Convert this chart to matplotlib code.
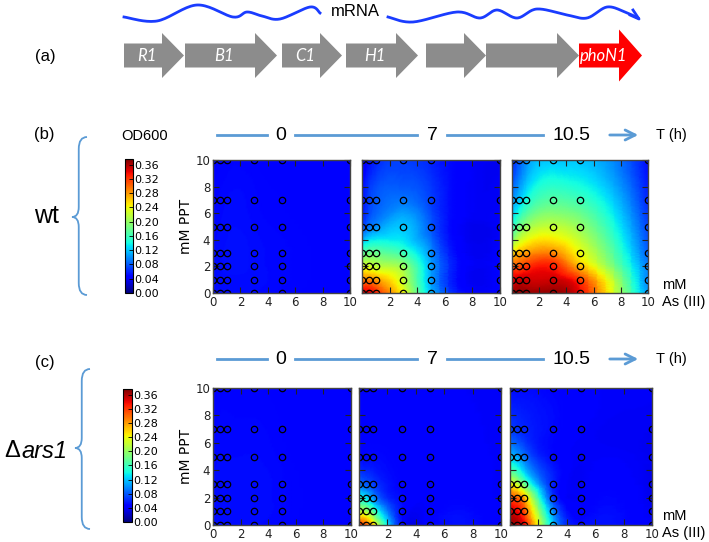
import numpy as np
import matplotlib
matplotlib.use("Agg")
import matplotlib.pyplot as plt
import matplotlib.tri as mtri
from matplotlib.path import Path
from matplotlib.patches import PathPatch, FancyArrow

# DATA
# measured grid (As(III) mM on x, PPT mM on y)
ars_mM = [0, 0.5, 1, 3, 5, 10]
ppt_mM = [0, 1, 2, 3, 5, 7, 10]
times = ["0", "7", "10.5"]

# OD600 values, one row per PPT level (0,1,2,3,5,7,10), columns follow ars_mM
od_wt_0h = [
    [0.050, 0.050, 0.050, 0.050, 0.048, 0.044],
    [0.050, 0.051, 0.051, 0.051, 0.049, 0.044],
    [0.050, 0.051, 0.052, 0.051, 0.049, 0.044],
    [0.050, 0.051, 0.052, 0.051, 0.049, 0.044],
    [0.049, 0.050, 0.051, 0.050, 0.048, 0.043],
    [0.048, 0.049, 0.050, 0.049, 0.047, 0.043],
    [0.046, 0.047, 0.048, 0.047, 0.046, 0.042],
]
od_wt_7h = [
    [0.35, 0.35, 0.33, 0.24, 0.12, 0.045],
    [0.29, 0.29, 0.28, 0.22, 0.11, 0.045],
    [0.23, 0.23, 0.22, 0.20, 0.11, 0.045],
    [0.17, 0.18, 0.18, 0.16, 0.10, 0.044],
    [0.07, 0.09, 0.10, 0.12, 0.08, 0.042],
    [0.05, 0.07, 0.08, 0.09, 0.07, 0.040],
    [0.04, 0.05, 0.06, 0.07, 0.06, 0.038],
]
od_wt_105h = [
    [0.37, 0.37, 0.37, 0.37, 0.34, 0.10],
    [0.34, 0.35, 0.35, 0.35, 0.32, 0.09],
    [0.31, 0.31, 0.32, 0.33, 0.27, 0.09],
    [0.25, 0.27, 0.28, 0.29, 0.24, 0.08],
    [0.15, 0.18, 0.20, 0.22, 0.20, 0.07],
    [0.10, 0.12, 0.14, 0.17, 0.16, 0.06],
    [0.06, 0.08, 0.10, 0.12, 0.12, 0.05],
]
od_ars1_0h = [
    [0.050, 0.050, 0.050, 0.050, 0.048, 0.044],
    [0.050, 0.051, 0.051, 0.051, 0.049, 0.044],
    [0.050, 0.051, 0.051, 0.051, 0.049, 0.044],
    [0.050, 0.051, 0.051, 0.051, 0.049, 0.044],
    [0.049, 0.050, 0.050, 0.050, 0.048, 0.043],
    [0.048, 0.049, 0.049, 0.049, 0.047, 0.043],
    [0.046, 0.047, 0.047, 0.047, 0.046, 0.042],
]
od_ars1_7h = [
    [0.33, 0.31, 0.26, 0.05, 0.045, 0.042],
    [0.22, 0.21, 0.17, 0.05, 0.044, 0.041],
    [0.14, 0.13, 0.10, 0.05, 0.043, 0.040],
    [0.09, 0.08, 0.07, 0.047, 0.043, 0.040],
    [0.05, 0.05, 0.05, 0.045, 0.043, 0.040],
    [0.045, 0.045, 0.045, 0.044, 0.042, 0.040],
    [0.043, 0.043, 0.043, 0.043, 0.042, 0.040],
]
od_ars1_105h = [
    [0.37, 0.36, 0.34, 0.12, 0.05, 0.040],
    [0.35, 0.34, 0.31, 0.10, 0.045, 0.038],
    [0.31, 0.30, 0.27, 0.07, 0.042, 0.036],
    [0.24, 0.22, 0.18, 0.06, 0.040, 0.036],
    [0.12, 0.11, 0.09, 0.05, 0.040, 0.037],
    [0.07, 0.065, 0.06, 0.05, 0.042, 0.038],
    [0.05, 0.05, 0.05, 0.047, 0.043, 0.040],
]
cbar_ticks = [0.00, 0.04, 0.08, 0.12, 0.16, 0.20, 0.24, 0.28, 0.32, 0.36]
genes = ["R1", "B1", "C1", "H1", "", "", "phoN1"]

VMAX = 0.376
W, H = 709, 542

plt.rcParams["xtick.direction"] = "in"
plt.rcParams["ytick.direction"] = "in"
plt.rcParams["xtick.top"] = True
plt.rcParams["ytick.right"] = True

fig = plt.figure(figsize=(W / 100, H / 100), dpi=100)

# overlay for diagram parts, in pixel coords
ov = fig.add_axes([0, 0, 1, 1])
ov.set_xlim(0, W)
ov.set_ylim(H, 0)
ov.axis("off")

SANS = "Liberation Sans"
line_blue = "#5b9bd5"


def smooth(pts, n=20):
    # catmull-rom through points
    pts = np.asarray(pts, float)
    p = np.vstack([pts[0], pts, pts[-1]])
    out = []
    for i in range(1, len(p) - 2):
        t = np.linspace(0, 1, n)[:, None]
        p0, p1, p2, p3 = p[i - 1], p[i], p[i + 1], p[i + 2]
        c = 0.5 * ((2 * p1) + (-p0 + p2) * t + (2 * p0 - 5 * p1 + 4 * p2 - p3) * t**2
                   + (-p0 + 3 * p1 - 3 * p2 + p3) * t**3)
        out.append(c)
    return np.vstack(out)


# --- (a) operon ---
wave1 = smooth([(124, 17), (157, 21), (197, 5), (233, 17), (247, 12), (262, 16),
                (280, 19), (310, 7), (320, 13)])
wave2 = smooth([(388, 17), (413, 22), (457, 12), (480, 18), (497, 10), (517, 18),
                (537, 9), (567, 15), (587, 18), (607, 7), (625, 12), (638, 18)])
ov.plot(wave1[:, 0], wave1[:, 1], color="#1a3cff", lw=2)
ov.plot(wave2[:, 0], wave2[:, 1], color="#1a3cff", lw=2)
ov.plot([630, 639, 633], [15, 19, 10], color="#1a3cff", lw=2)
ov.text(355, 11, "mRNA", ha="center", va="center", fontsize=12, family=SANS)

starts = [124, 185, 282, 346, 426, 486, 579]
tips = [184, 277, 342, 418, 486, 579, 642]
for i, g in enumerate(genes):
    red = g == "phoN1"
    col = "#ff0000" if red else "#8c8c8c"
    hw = 52 if red else 45
    a = FancyArrow(starts[i], 55.5, tips[i] - starts[i], 0, width=24, head_width=hw,
                   head_length=23 if red else 22, length_includes_head=True,
                   color=col, lw=0)
    ov.add_patch(a)
    if g:
        bx = (starts[i] + tips[i] - 22) / 2 + 4
        ov.text(bx, 56, g, ha="center", va="center", color="white", style="italic",
                fontsize=12, family="Lato")
ov.text(45, 56, "(a)", ha="center", va="center", fontsize=12, family=SANS)


def brace(x_right, y_top, y_bot, y_tip, w=15):
    xm = x_right - w * 0.55
    xl = x_right - w
    verts = [(x_right, y_top), (xm, y_top), (xm, y_top + 12),
             (xm, y_tip - 10), (xm, y_tip), (xl, y_tip),
             (xm, y_tip), (xm, y_tip + 10),
             (xm, y_bot - 12), (xm, y_bot), (x_right, y_bot)]
    codes = [Path.MOVETO, Path.CURVE3, Path.CURVE3, Path.LINETO, Path.CURVE3, Path.CURVE3,
             Path.CURVE3, Path.CURVE3, Path.LINETO, Path.CURVE3, Path.CURVE3]
    ov.add_patch(PathPatch(Path(verts, codes), fc="none", ec=line_blue, lw=1.3))


def timeline(y):
    ov.plot([217, 267], [y, y], color=line_blue, lw=2)
    ov.plot([295, 417], [y, y], color=line_blue, lw=2)
    ov.plot([447, 543], [y, y], color=line_blue, lw=2)
    ov.annotate("", xy=(641, y), xytext=(607, y),
                arrowprops=dict(arrowstyle="->", color=line_blue, lw=2,
                                mutation_scale=18))
    for t, x in zip(times, [281, 432, 571]):
        ov.text(x, y, t, ha="center", va="center", fontsize=14, family=SANS)
    ov.text(656, y, "T (h)", ha="left", va="center", fontsize=10.5, family=SANS)


X, Y = np.meshgrid(ars_mM, ppt_mM)
tri = mtri.Triangulation(X.ravel(), Y.ravel())
refiner = mtri.UniformTriRefiner(tri)


def heat_row(data, xs, y0, y1, cb):
    for k, z in enumerate(data):
        x0, x1 = xs[k]
        ax = fig.add_axes([x0 / W, 1 - y1 / H, (x1 - x0) / W, (y1 - y0) / H])
        tri_r, z_r = refiner.refine_field(np.asarray(z, float).ravel(), subdiv=4)
        ax.tripcolor(tri_r, z_r, shading="gouraud", cmap="jet", vmin=0, vmax=VMAX)
        ax.plot(X.ravel(), Y.ravel(), "o", mfc="none", mec="black", ms=4.6, mew=0.9)
        ax.set_xlim(0, 10)
        ax.set_ylim(0, 10)
        ax.set_xticks(range(0, 11, 2))
        ax.set_yticks(range(0, 11, 2))
        ax.tick_params(labelsize=8.5, length=4, width=0.8, pad=2, colors="#222222")
        for s in ax.spines.values():
            s.set_color("#444444")
            s.set_linewidth(1)
        if k == 0:
            ax.set_ylabel("mM PPT", fontsize=10, labelpad=2)
        else:
            ax.set_yticklabels([])
            ax.set_xticklabels(["", "2", "4", "6", "8", "10"])
    cx0, cx1, cy0, cy1 = cb
    cax = fig.add_axes([cx0 / W, 1 - cy1 / H, (cx1 - cx0) / W, (cy1 - cy0) / H])
    sm = plt.cm.ScalarMappable(cmap="jet", norm=plt.Normalize(0, VMAX))
    cbar = fig.colorbar(sm, cax=cax, ticks=cbar_ticks)
    cbar.ax.set_yticklabels([f"{v:.2f}" for v in cbar_ticks])
    cbar.ax.tick_params(labelsize=8, length=3, width=0.6, pad=1, direction="in")
    cbar.outline.set_linewidth(0.8)


# --- (b) wild type ---
ov.text(44, 135, "(b)", ha="center", va="center", fontsize=12, family=SANS)
ov.text(145, 136, "OD600", ha="center", va="center", fontsize=10.5, family=SANS)
ov.text(46, 216, "wt", ha="center", va="center", fontsize=18, family=SANS)
brace(87, 137, 295, 217)
timeline(135)
heat_row([od_wt_0h, od_wt_7h, od_wt_105h],
         [(213, 350), (362, 500), (512, 648)], 160, 293, (125, 133, 159, 293))
ov.text(662, 285, "mM", ha="left", va="center", fontsize=10.5, family=SANS)
ov.text(662, 302, "As (III)", ha="left", va="center", fontsize=10.5, family=SANS)

# --- (c) ars1 deletion ---
ov.text(45, 363, "(c)", ha="center", va="center", fontsize=12, family=SANS)
ov.text(12, 451, "\u0394", ha="center", va="center", fontsize=17, family=SANS)
ov.text(21, 451, "ars1", ha="left", va="center", fontsize=17, family=SANS, style="italic")
brace(90, 369, 529, 448)
timeline(359)
heat_row([od_ars1_0h, od_ars1_7h, od_ars1_105h],
         [(213, 351), (359, 501), (510, 652)], 388, 525, (123, 132, 389, 522))
ov.text(662, 516, "mM", ha="left", va="center", fontsize=10.5, family=SANS)
ov.text(662, 533, "As (III)", ha="left", va="center", fontsize=10.5, family=SANS)

fig.savefig("out.png", dpi=100)
